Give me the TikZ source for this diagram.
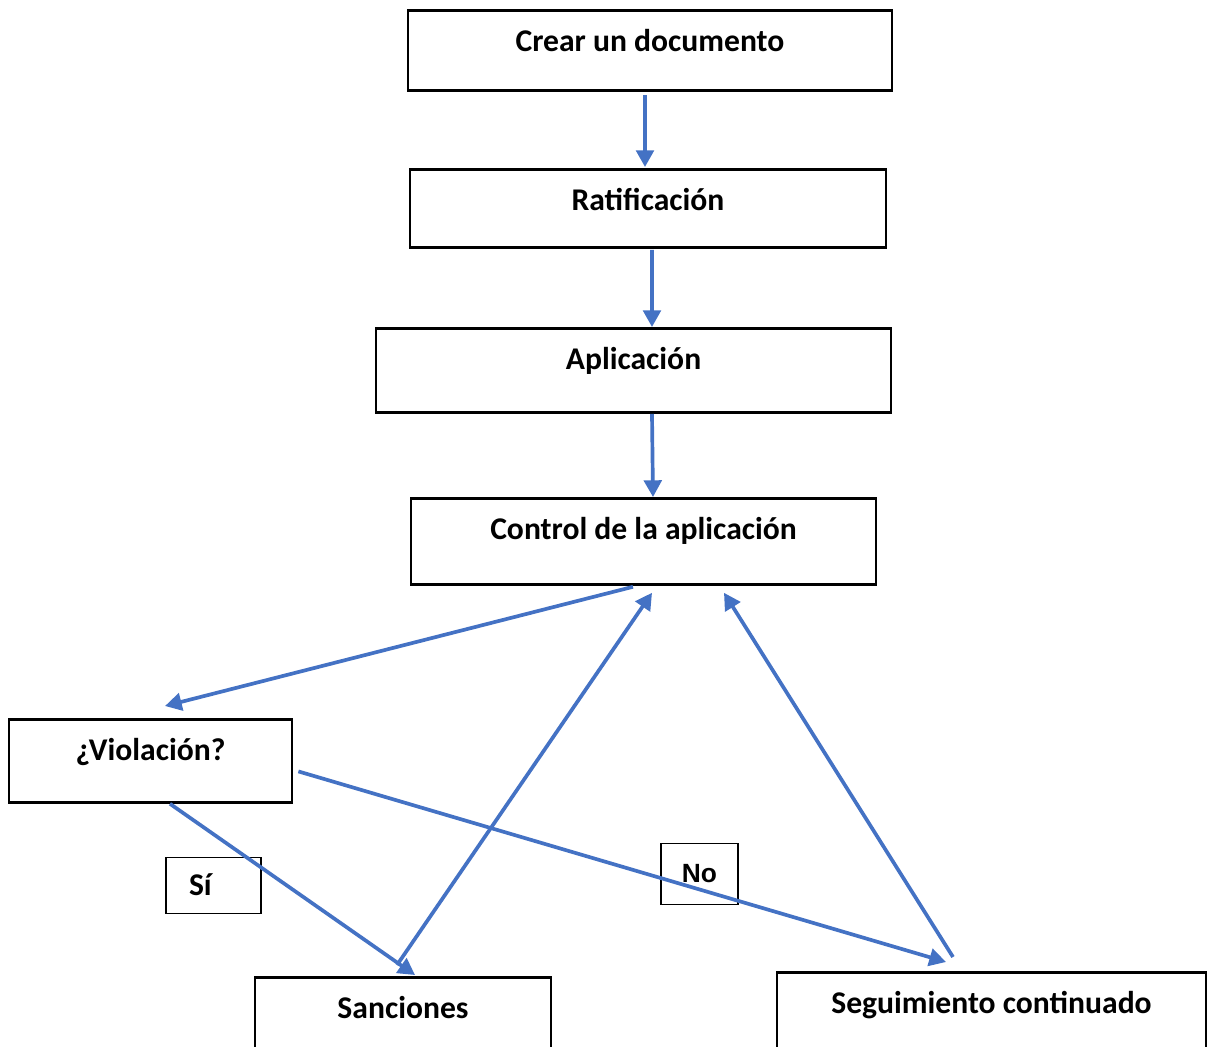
\documentclass[tikz,border=0pt]{standalone}
\usepackage{fontspec}
\setmainfont{Carlito}
\newfontfamily\nofont{Liberation Sans}
\usetikzlibrary{arrows.meta}
\definecolor{flowblue}{RGB}{68,114,196}
\tikzset{
  stepbox/.style={draw=black, line width=1.6pt, anchor=north, inner xsep=0pt, inner ysep=0pt,
    text height=0.83cm, font=\fontsize{18}{21}\selectfont\bfseries},
  tagbox/.style={draw=black, line width=0.7pt, anchor=north, inner ysep=0pt},
  flow/.style={-{Triangle[length=9.5pt,width=10pt]}, line width=2.1pt, draw=flowblue}
}
\begin{document}
\begin{tikzpicture}[x=0.02cm, y=-0.02cm]
\useasboundingbox (0,0) rectangle (1208,1046);
\node[stepbox, minimum width=9.68cm, text depth=0.77cm] (crear) at (650,9) {Crear un documento};
\node[stepbox, minimum width=9.52cm, text depth=0.73cm] (ratif) at (648,168) {Ratificación};
\node[stepbox, minimum width=10.3cm, text depth=0.85cm] (aplic) at (633.5,327) {Aplicación};
\node[stepbox, minimum width=9.3cm, text depth=0.89cm] (control) at (643.5,497) {Control de la aplicación};
\node[stepbox, minimum width=5.66cm, text depth=0.83cm] (viol) at (150.5,718) {¿Violación?};
\node[stepbox, minimum width=5.92cm, text depth=1.4cm] (sanc) at (403,976) {Sanciones};
\node[stepbox, minimum width=8.58cm, text depth=1.4cm] (segu) at (991.5,971) {Seguimiento continuado};
\node[tagbox, inner xsep=0.46cm, text width=0.98cm, align=left, text height=0.76cm, text depth=0.36cm,
  font=\fontsize{18}{21}\selectfont\bfseries] (si) at (213.5,857) {Sí};
\node[tagbox, inner xsep=0pt, minimum width=1.54cm, text height=0.78cm, text depth=0.44cm,
  font=\fontsize{15}{18}\nofont\bfseries] (no) at (699.5,843) {No};
% main chain
\draw[flow] ([shift={(-5,3)}]crear.south) -- ([shift={(-3,-1)}]ratif.north);
\draw[flow] ([shift={(4,1)}]ratif.south) -- ([shift={(18.5,0)}]aplic.north);
\draw[flow] ([shift={(18.5,0)}]aplic.south) -- ([shift={(9.5,0)}]control.north);
% branches
\draw[flow] ([shift={(-10.5,1)}]control.south) -- ([shift={(14.5,-12)}]viol.north);
\draw[flow] ([shift={(19.5,0)}]viol.south) -- ([shift={(12,-1)}]sanc.north);
\draw[flow] ([shift={(-6,-11)}]sanc.north) -- ([shift={(8.5,7)}]control.south);
\draw[flow] ([shift={(5,10.5)}]viol.east) -- ([shift={(-45.5,-9)}]segu.north);
\draw[flow] ([shift={(-38.5,-14)}]segu.north) -- ([shift={(80.5,7)}]control.south);
\end{tikzpicture}
\end{document}
